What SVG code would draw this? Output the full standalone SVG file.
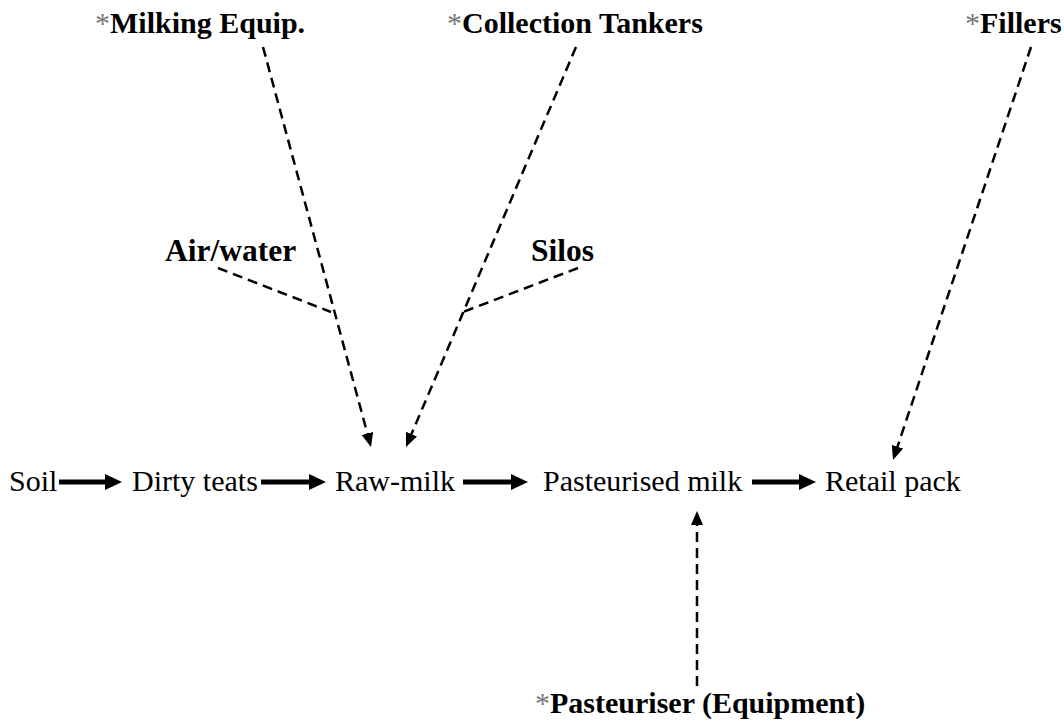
<svg xmlns="http://www.w3.org/2000/svg" width="1064" height="721" viewBox="0 0 1064 721">
<style>
.t{font-family:"Liberation Serif","Times New Roman",serif;font-size:30px;fill:#000}
.b{font-weight:bold}
.m{font-size:31.5px}
.ast{fill:#777;font-weight:normal}
.solid{stroke:#000;stroke-width:5;fill:none}
.dash{stroke:#000;stroke-width:2.5;stroke-dasharray:10 6;fill:none}
</style>
<defs>
<marker id="ah" markerUnits="userSpaceOnUse" markerWidth="17" markerHeight="16" refX="6" refY="8" orient="auto">
<path d="M0,0 L17,8 L0,16 z" fill="#000"/>
</marker>
<marker id="dh" markerUnits="userSpaceOnUse" markerWidth="14" markerHeight="12" refX="4" refY="6" orient="auto">
<path d="M0,0 L14,6 L0,12 z" fill="#000"/>
</marker>
</defs>
<rect width="1064" height="721" fill="#fff"/>
<g id="connectors">
<line class="solid" x1="59" y1="482" x2="111" y2="482" marker-end="url(#ah)"/>
<line class="solid" x1="261" y1="482" x2="315" y2="482" marker-end="url(#ah)"/>
<line class="solid" x1="463" y1="482" x2="517" y2="482" marker-end="url(#ah)"/>
<line class="solid" x1="752" y1="482" x2="805" y2="482" marker-end="url(#ah)"/>
<line class="dash" x1="263" y1="47" x2="368.4" y2="437.3" marker-end="url(#dh)"/>
<line class="dash" x1="576" y1="47" x2="409.9" y2="437.8" marker-end="url(#dh)"/>
<line class="dash" x1="1031" y1="47" x2="896.2" y2="450.5" marker-end="url(#dh)"/>
<line class="dash" x1="697" y1="686" x2="697" y2="521" marker-end="url(#dh)"/>
<line class="dash" x1="218" y1="268" x2="331" y2="312"/>
<line class="dash" x1="578" y1="268" x2="463" y2="312"/>
</g>
<g id="soil"><text class="t" x="9" y="491">Soil</text></g>
<g id="dirty-teats"><text class="t" x="132" y="491">Dirty teats</text></g>
<g id="raw-milk"><text class="t" x="335" y="491">Raw-milk</text></g>
<g id="pasteurised-milk"><text class="t" x="543" y="491">Pasteurised milk</text></g>
<g id="retail-pack"><text class="t" x="825" y="491">Retail pack</text></g>
<g id="milking-equip"><text class="t b" x="95" y="33"><tspan class="ast">*</tspan>Milking Equip.</text></g>
<g id="collection-tankers"><text class="t b" x="447" y="33"><tspan class="ast">*</tspan>Collection Tankers</text></g>
<g id="fillers"><text class="t b" x="965" y="33"><tspan class="ast">*</tspan>Fillers</text></g>
<g id="air-water"><text class="t b m" x="165" y="261">Air/water</text></g>
<g id="silos"><text class="t b m" x="531" y="261">Silos</text></g>
<g id="pasteuriser"><text class="t b" x="535" y="713"><tspan class="ast">*</tspan>Pasteuriser (Equipment)</text></g>
</svg>
